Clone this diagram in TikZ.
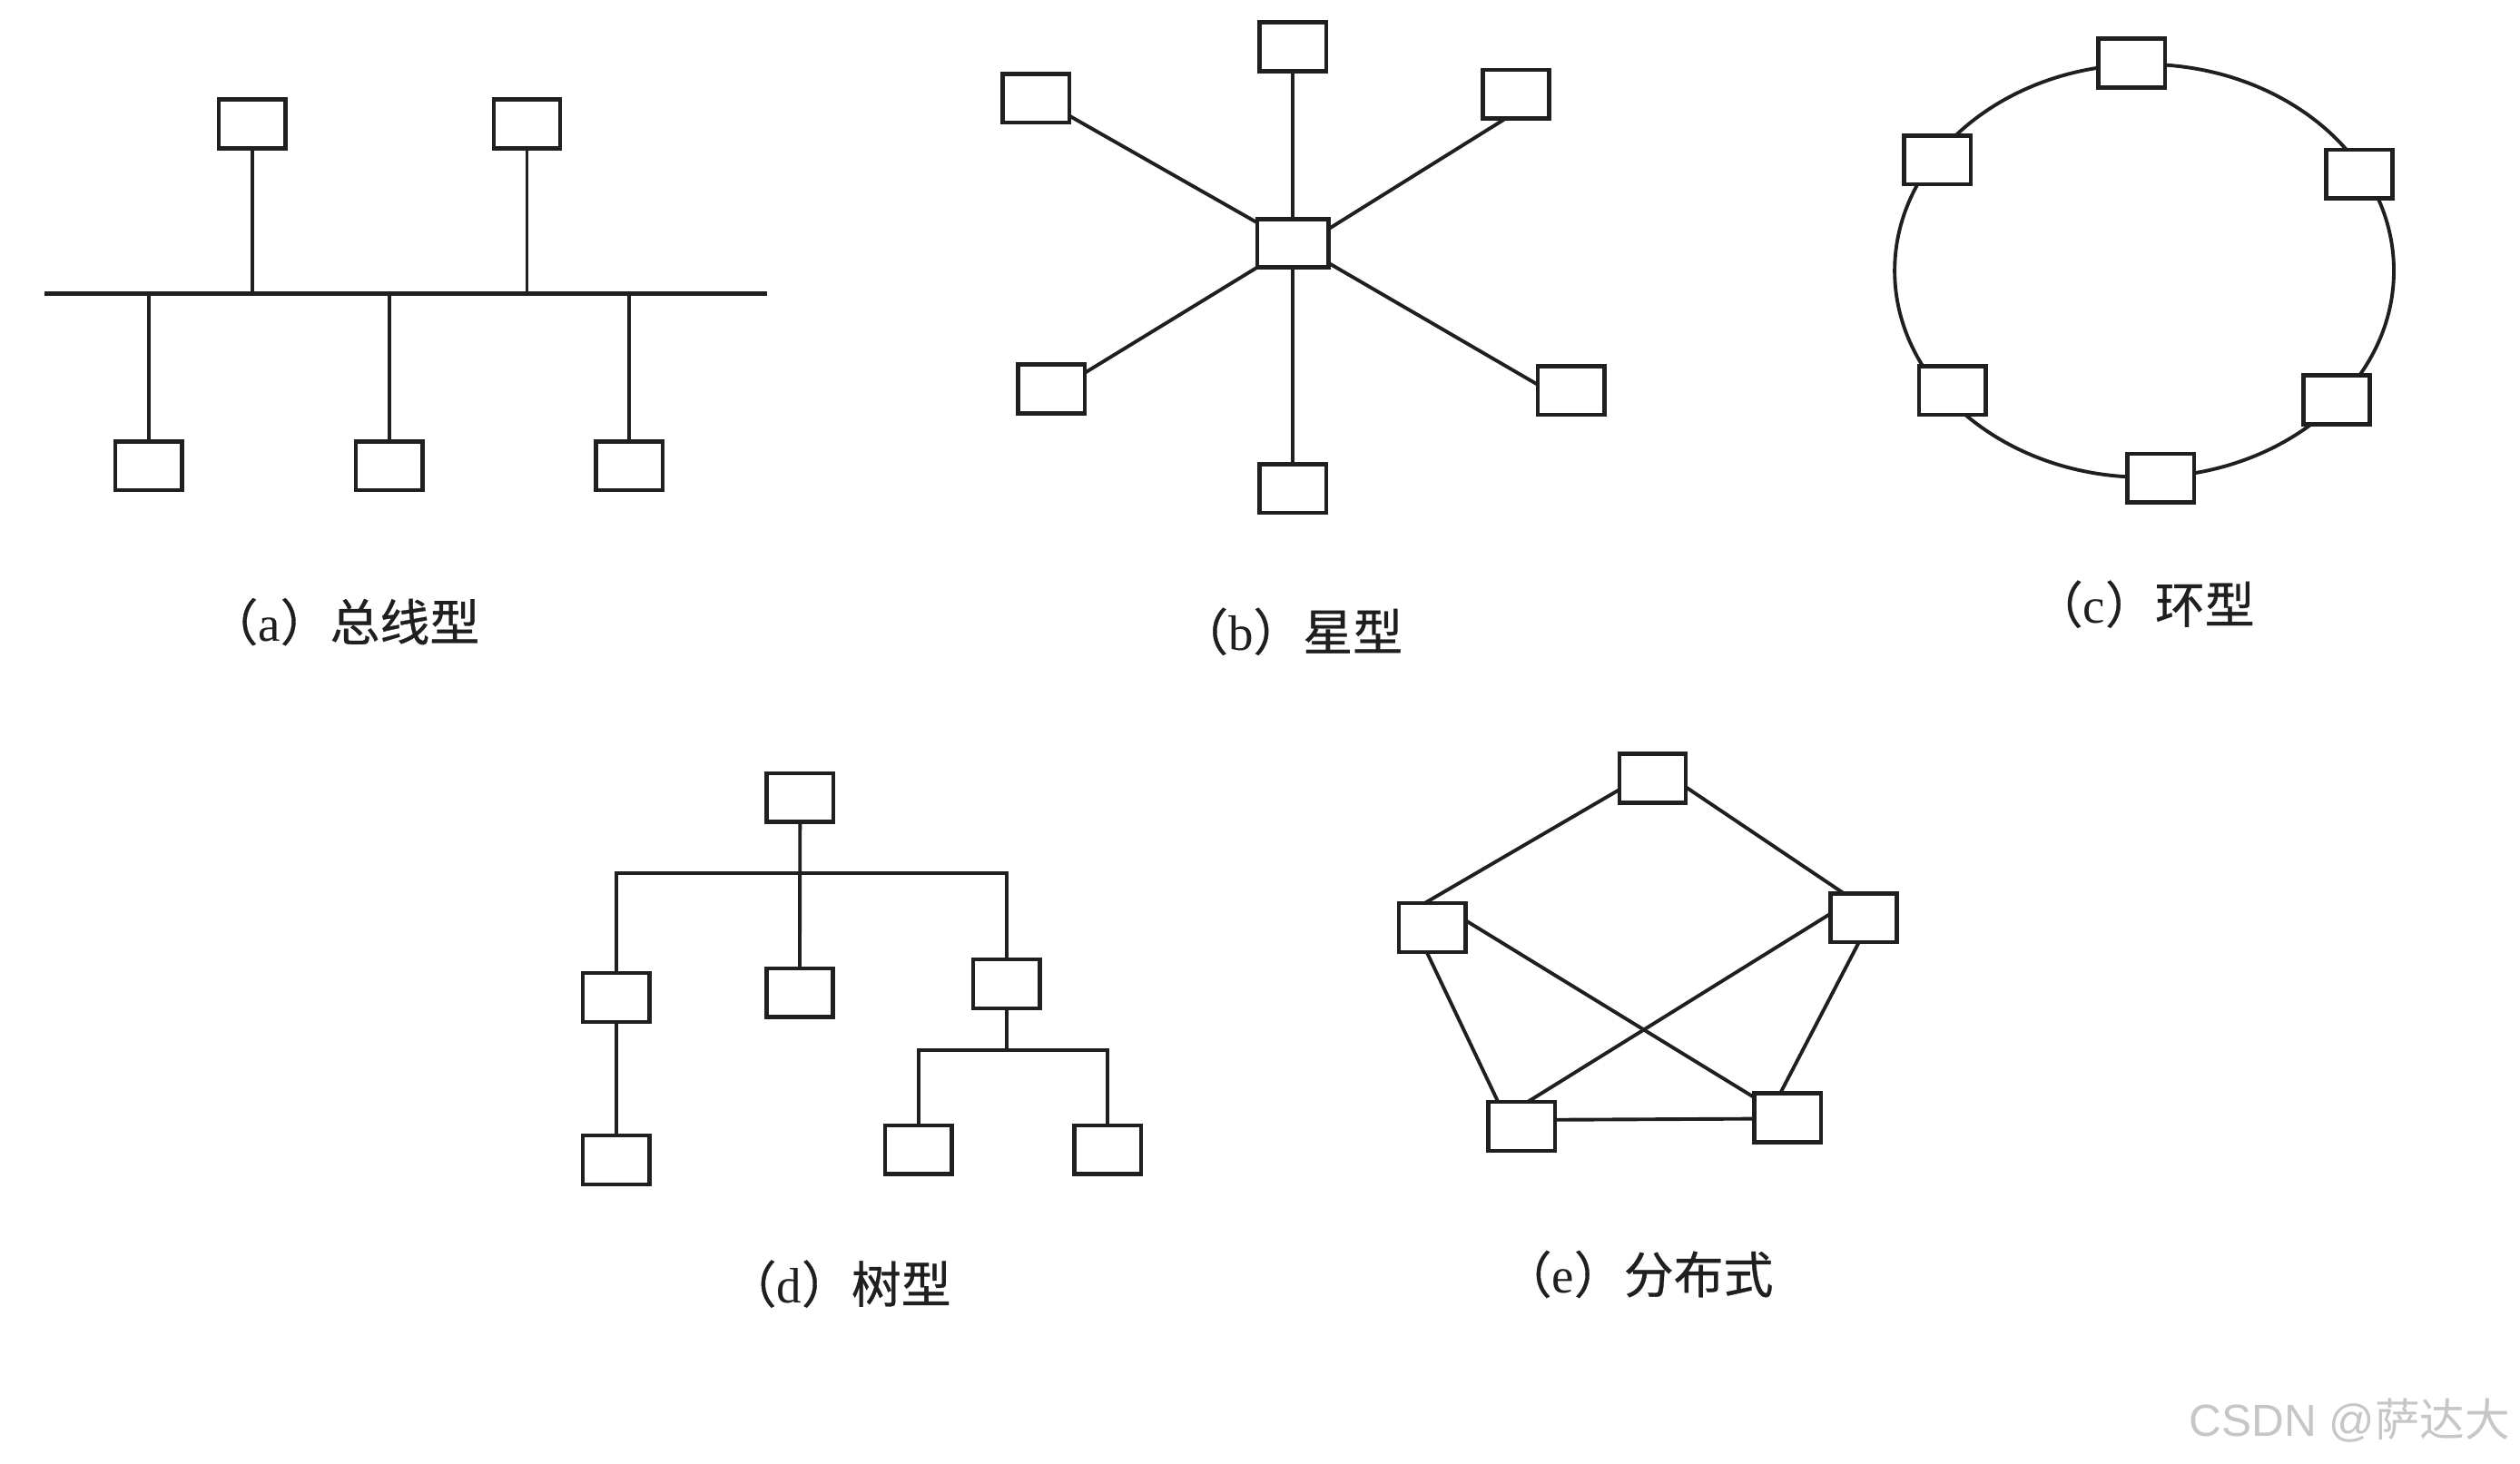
\documentclass[tikz,border=0pt]{standalone}
\usepackage{fontspec}
\setmainfont{Liberation Serif}
\newfontfamily\cjk{Noto Sans CJK SC}
\newfontfamily\cjkb[FakeBold=0.6]{Noto Sans CJK SC}
\newfontfamily\wmfont{Liberation Sans}
\definecolor{ink}{RGB}{32,30,32}
\definecolor{wmgray}{RGB}{198,198,198}
\begin{document}
\begin{tikzpicture}[x=0.5pt,y=-0.5pt,
  box/.style={draw=ink, line width=1.3pt, fill=white, inner sep=0pt, outer sep=0pt,
              minimum width=20.7pt, minimum height=15.2pt},
  hub/.style={box, minimum width=22.2pt, minimum height=15pt},
  link/.style={draw=ink, line width=1.1pt},
  caption label/.style={font=\fontsize{15.5}{17}\selectfont, inner sep=0pt, text=ink},
  wm/.style={font=\fontsize{14}{16}\selectfont, inner sep=0pt, text=wmgray}]
\useasboundingbox (0,0) rectangle (1568,911);

% ---------- (a) bus ----------
\coordinate (busL) at (27.6,182.8);
\coordinate (busR) at (477.2,182.8);
\draw[link, line width=1.25pt] (busL) -- (busR);
\node[box] (a1) at (156.8,77.2) {};
\node[box] (a2) at (327.9,77.2) {};
\node[box] (a3) at (92.4,289.9) {};
\node[box] (a4) at (242.2,289.9) {};
\node[box] (a5) at (391.6,289.9) {};
\draw[link] (a1.south) -- (a1.south |- busL);
\draw[link] (a2.south) -- (a2.south |- busL);
\draw[link] (a3.north) -- (a3.north |- busL);
\draw[link] (a4.north) -- (a4.north |- busL);
\draw[link] (a5.north) -- (a5.north |- busL);
\node[caption label] (la) at (214,387) {{\cjkb （}a{\cjkb ）总线型}};

% ---------- (b) star ----------
\node[hub] (bc) at (804.5,151.4) {};
\node[box] (bt) at (804.5,29) {};
\node[box] (bul) at (644.7,61.1) {};
\node[box] (bur) at (943.2,58.6) {};
\node[box] (bll) at (654.3,242.1) {};
\node[box] (blr) at (977.5,243) {};
\node[box] (bb) at (804.5,304) {};
\draw[link] (bt.south) -- (bc.north);
\draw[link] (bul.-28) -- (bc.150);
\draw[link] (bur.247) -- (bc.22);
\draw[link] (bll.26) -- (bc.214);
\draw[link] (blr.170) -- (bc.-29);
\draw[link] (bb.north) -- (bc.south);
\node[caption label] (lb) at (803,393) {{\cjkb （}b{\cjkb ）星型}};

% ---------- (c) ring ----------
\coordinate (rc) at (1334.2,168.5);
\draw[link] (rc) ellipse (155.3 and 128.5);
\node[box] (c1) at (1326.4,39.2) {};
\node[box] (c2) at (1468,108.3) {};
\node[box] (c3) at (1453.9,248.8) {};
\node[box] (c4) at (1344.5,297.6) {};
\node[box] (c5) at (1214.8,243) {};
\node[box] (c6) at (1205.5,99.5) {};
\node[caption label] (lc) at (1334,376) {{\cjkb （}c{\cjkb ）环型}};

% ---------- (d) tree ----------
\node[box] (d0) at (497.8,496.4) {};
\node[box] (d1) at (383.3,620.7) {};
\node[box] (d2) at (497.6,617.8) {};
\node[box] (d3) at (626.3,612.3) {};
\node[box] (d4) at (383.3,721.9) {};
\node[box] (d5) at (571.5,715.5) {};
\node[box] (d6) at (689.2,715.5) {};
\coordinate (dbar) at (497.6,543.6);
\coordinate (dsub) at (626.3,653.7);
\draw[link] (d0.south) -- (d2.north);
\draw[link] (d1.north) |- (dbar) -| (d3.north);
\draw[link] (d1.south) -- (d4.north);
\draw[link] (d3.south) -- (dsub);
\draw[link] (d5.north) |- (dsub) -| (d6.north);
\node[caption label] (ld) at (522,799) {{\cjkb （}d{\cjkb ）树型}};

% ---------- (e) distributed ----------
\node[box] (et) at (1028.3,484.3) {};
\node[box] (el) at (891.2,577.2) {};
\node[box] (er) at (1159.6,571.2) {};
\node[box] (ebl) at (946.8,700.9) {};
\node[box] (ebr) at (1112.4,695.5) {};
\draw[link] (et.199) -- (el.107);
\draw[link] (et.-15) -- (er.129);
\draw[link] (el.257) -- (ebl.134);
\draw[link] (el.12) -- (ebr.149);
\draw[link] (er.173) -- (ebl.76);
\draw[link] (er.259) -- (ebr.107);
\draw[link] (ebl.11) -- (ebr.182);
\node[caption label] (le) at (1019,793) {{\cjkb （}e{\cjkb ）分布式}};

% ---------- watermark ----------
\node[wm] (wmk) at (1462,884) {{\wmfont CSDN @}{\cjk 萨达大}};
\end{tikzpicture}
\end{document}
